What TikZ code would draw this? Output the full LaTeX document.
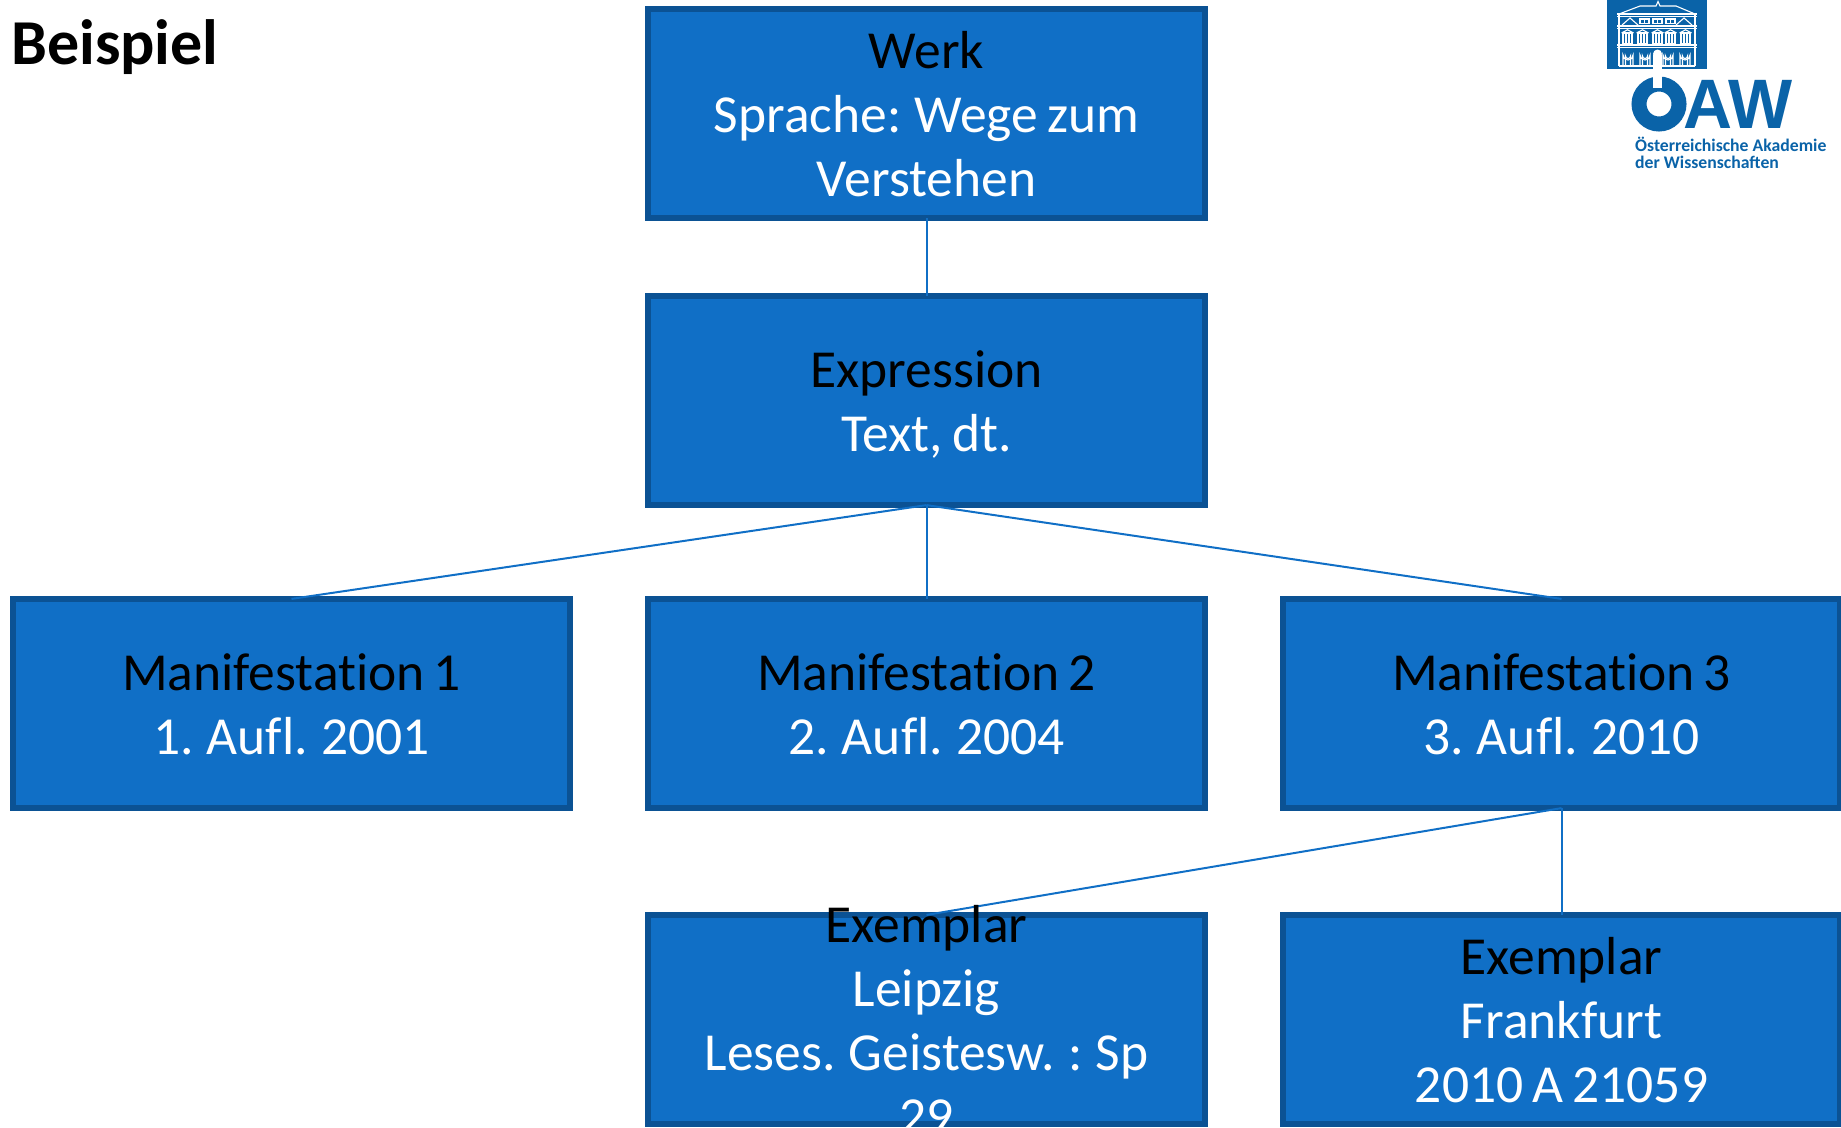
\documentclass[tikz,border=0pt]{standalone}
\usepackage{fontspec}
\setmainfont[Ligatures=NoCommon,WordSpace=0.75]{Carlito}
\newfontfamily\logofont{Liberation Sans}
\newfontfamily\logotext{Carlito}
\definecolor{boxfill}{HTML}{106FC6}
\definecolor{boxedge}{HTML}{0B5294}
\definecolor{logoblue}{HTML}{0A63A8}
\newcommand{\topstrut}{\rule{0pt}{50pt}}
\newcommand{\botstrut}{\rule[-12pt]{0pt}{12pt}}
\tikzset{
  x=1pt,y=-1pt,
  frbrtext/.style={inner sep=0pt,outer sep=0pt,text=white,align=center,font=\fontsize{53.5}{64}\selectfont,
    execute at end node=\botstrut},
  frbr/.style={frbrtext,rectangle,draw=boxedge,fill=boxfill,line width=5.8pt,minimum width=557.2pt,minimum height=209.2pt},
  link/.style={draw=boxfill,line width=2pt},
  bld/.style={draw=white,line width=1.1pt},
}
\newcommand{\hd}[1]{\topstrut\textcolor{black}{#1}}
\begin{document}
\begin{tikzpicture}
\useasboundingbox (0,0) rectangle (1841,1127);
% title
\node[anchor=base west,inner sep=0pt,font=\fontsize{64}{70}\selectfont\bfseries] (title) at (11,64) {Beispiel};
% boxes
\node[frbr] (werk) at (926.5,113.5) {\hd{Werk}\\Sprache: Wege zum\\Verstehen};
\node[frbr] (expr) at (926.5,400.5) {\hd{Expression}\\Text, dt.};
\node[frbr] (m1) at (291.5,703.5) {\hd{Manifestation 1}\\1. Aufl. 2001};
\node[frbr] (m2) at (926.5,703.5) {\hd{Manifestation 2}\\2. Aufl. 2004};
\node[frbr] (m3) at (1561.5,703.5) {\hd{Manifestation 3}\\3. Aufl. 2010};
\node[frbr,execute at end node={}] (e1) at (926.5,1019.5) {};
\node[frbr] (e2) at (1561.5,1019.5) {\hd{Exemplar}\\Frankfurt\\2010 A 21059};
% connectors
\draw[link] (werk.south) -- (expr.north);
\draw[link] (expr.south) -- (m1.north);
\draw[link] (expr.south) -- (m2.north);
\draw[link] (expr.south) -- (m3.north);
\draw[link] (m3.south) -- (e1.north);
\draw[link] (m3.south) -- (e2.north);
\node[frbrtext] (e1text) at (e1.center) {\hd{Exemplar}\\Leipzig\\Leses. Geistesw. : Sp\\29};
% logo
\fill[logoblue] (1607,0) rectangle (1707,69);
% building: roof and bands
\draw[bld] (1617,14) -- (1697,14) (1617,16.5) -- (1697,16.5) (1617,26) -- (1697,26) (1617,28.5) -- (1697,28.5) (1617,45) -- (1697,45) (1617,47.5) -- (1697,47.5) (1619,66) -- (1695,66);
\draw[bld] (1619,14) -- (1640,6) -- (1656,6) -- (1658,1.5) -- (1660,6) -- (1676,6) -- (1695,14);
\draw[bld] (1619,14) -- (1619,66) (1695,14) -- (1695,66);
% attic pediments
\draw[bld] (1622,25) -- (1630,18) -- (1638,25) (1676,25) -- (1684,18) -- (1692,25);
\foreach \wx in {1640,1653,1666}{
  \draw[bld,fill=white] (\wx,18.5) rectangle ++(9,5);
  \fill[logoblue] (\wx+1.2,19.5) rectangle ++(2.5,3);
  \fill[logoblue] (\wx+5.3,19.5) rectangle ++(2.5,3);
}
% upper windows
\foreach \wx in {1623,1638,1653,1666,1681}{
  \draw[bld] (\wx,33) rectangle ++(9,10.5);
  \draw[bld] (\wx-1.5,33) -- (\wx+4.5,29.8) -- (\wx+10.5,33);
  \draw[bld] (\wx+3,33) -- (\wx+3,43.5) (\wx+6,33) -- (\wx+6,43.5);
}
% arches
\foreach \wx in {1623,1640,1663,1680}{
  \draw[bld] (\wx,65) -- (\wx,55) arc[start angle=180,end angle=0,radius=5] -- (\wx+10,65);
  \draw[bld] (\wx+2.5,65) -- (\wx+2.5,56) arc[start angle=180,end angle=0,radius=2.5] -- (\wx+7.5,65);
}
% O with notch
\draw[logoblue,line width=15pt] (1659,104) circle[radius=20];
\fill[white] (1653,55) rectangle (1662,88);
\fill[white] (1657.5,54) circle[radius=4.5];
\node[anchor=base west,inner sep=0pt,text=logoblue,xscale=0.97,font=\logofont\fontsize{70}{70}\selectfont\bfseries] (aw) at (1683,128) {AW};
\node[anchor=base west,inner sep=0pt,text=logoblue,font=\logotext\fontsize{17.7}{20}\selectfont\bfseries] (l1) at (1635,151) {Österreichische Akademie};
\node[anchor=base west,inner sep=0pt,text=logoblue,font=\logotext\fontsize{17.7}{20}\selectfont\bfseries] (l2) at (1635,168) {der Wissenschaften};
\end{tikzpicture}
\end{document}
